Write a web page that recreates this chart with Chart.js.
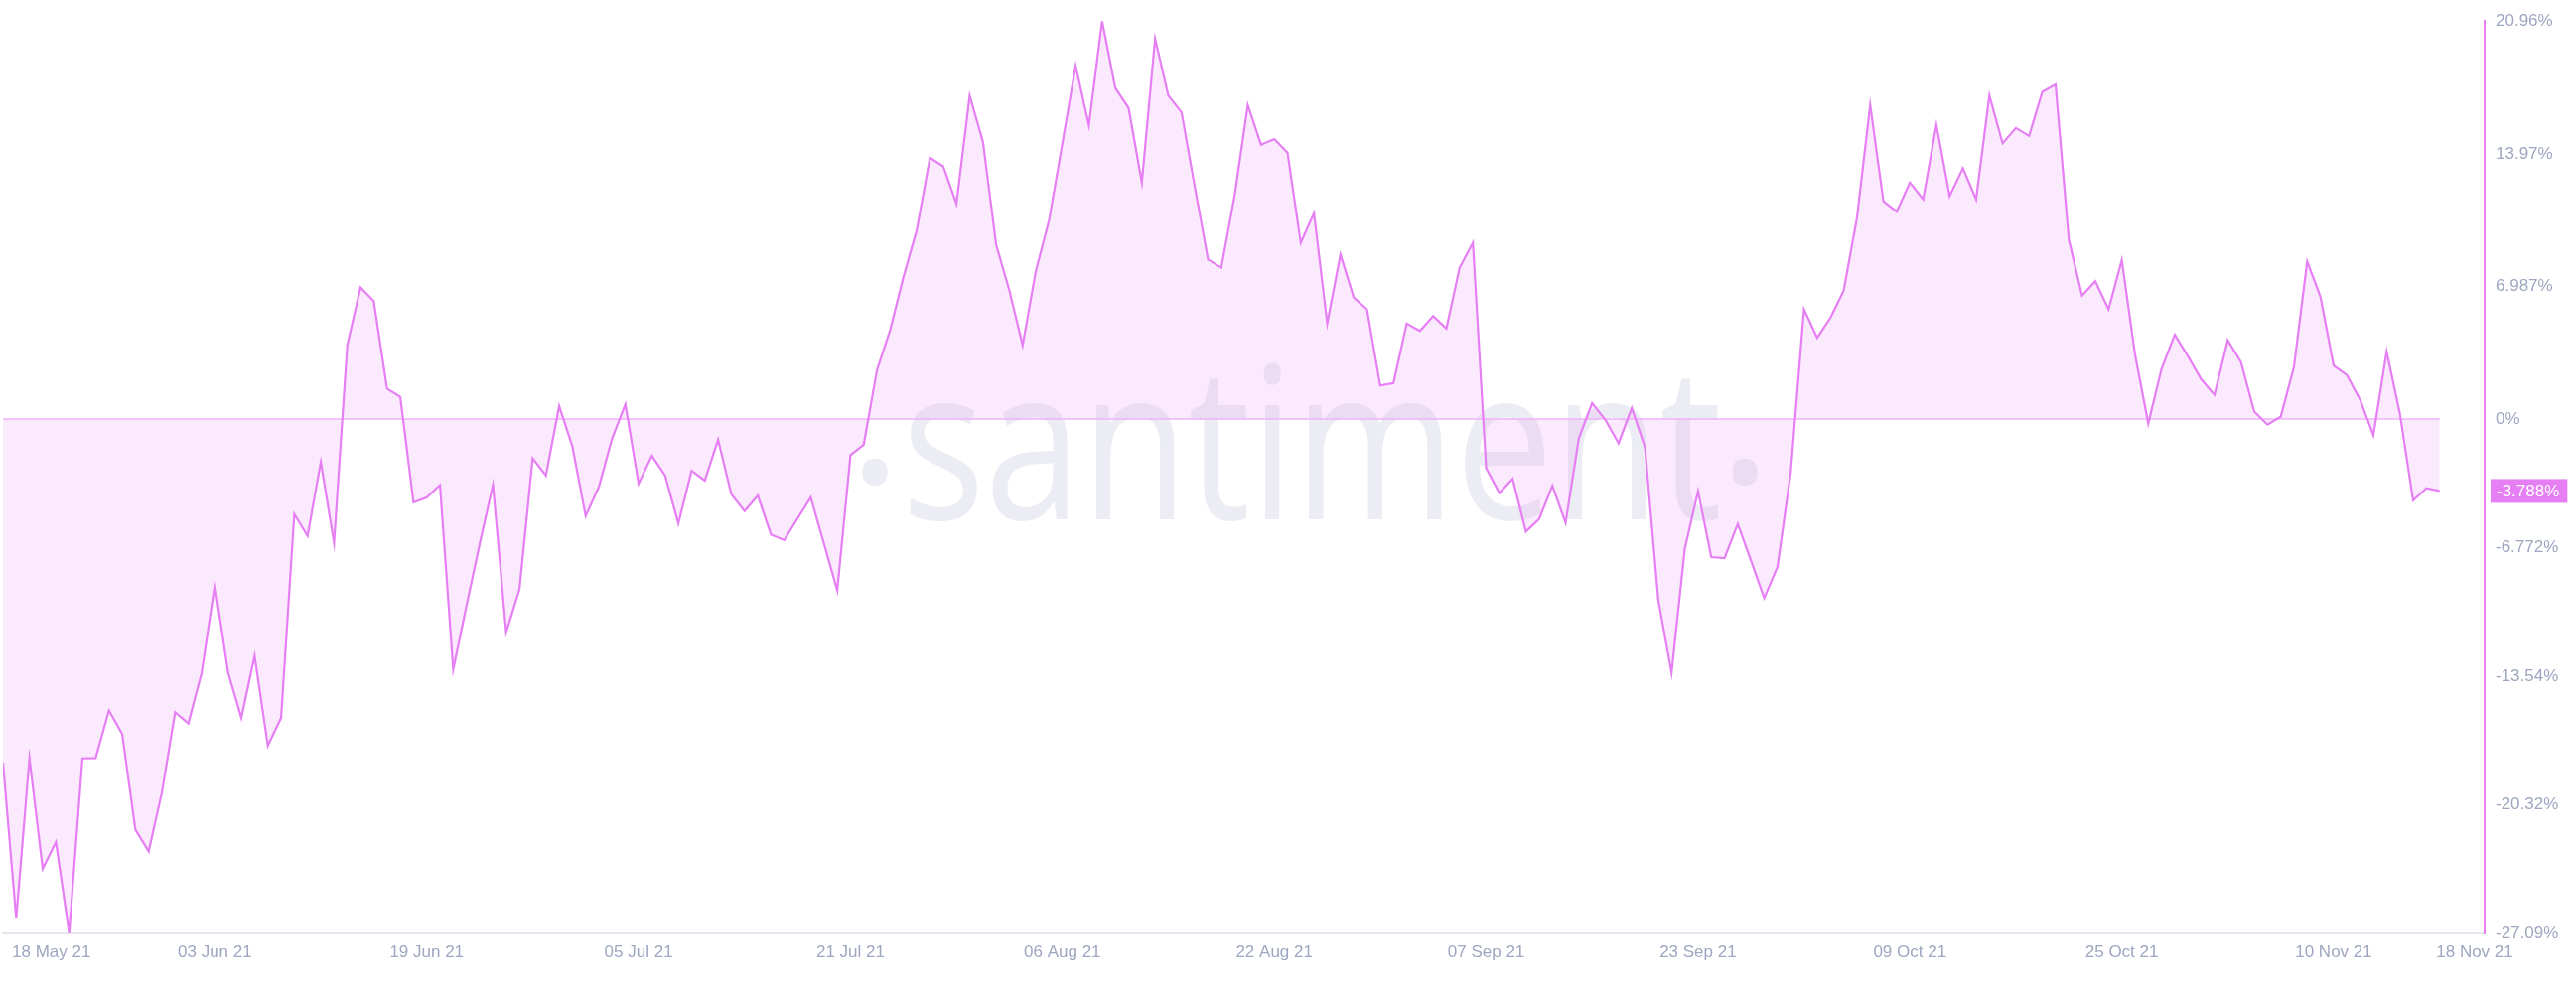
<!DOCTYPE html>
<html><head><meta charset="utf-8">
<script src="https://cdn.jsdelivr.net/npm/chart.js@4.4.0/dist/chart.umd.min.js"></script>
<style>html,body{margin:0;padding:0;background:#fff;overflow:hidden}#wrap{width:2594px;height:992px;position:relative}</style>
</head><body><div id="wrap"><canvas id="c" width="2594" height="992"></canvas></div>
<script>
// ---- data ----
const startDate = [2021, 4, 18]; // 18 May 2021, daily points
const values = [
-18.10,-26.31,-17.87,-23.69,-22.28,-27.09,-17.87,-17.85,-15.35,-16.59,
-21.63,-22.77,-19.67,-15.45,-16.03,-13.38,-8.71,-13.35,-15.74,-12.47,
-17.21,-15.74,-5.01,-6.16,-2.26,-6.52,3.89,6.93,6.21,1.60,
1.17,-4.39,-4.13,-3.47,-13.19,-9.85,-6.58,-3.47,-11.23,-8.97,
-2.07,-2.98,0.68,-1.45,-5.11,-3.57,-1.02,0.78,-3.41,-1.94,
-2.98,-5.50,-2.72,-3.24,-1.09,-3.96,-4.85,-4.03,-6.09,-6.38,
-5.24,-4.13,-6.58,-9.03,-1.90,-1.35,2.58,4.70,7.48,9.94,
13.76,13.31,11.34,17.04,14.61,9.18,6.76,3.89,7.81,10.49,
14.52,18.61,15.47,20.96,17.43,16.38,12.46,20.04,17.04,16.15,
12.23,8.40,7.97,11.74,16.54,14.45,14.75,14.03,9.28,10.85,
5.03,8.66,6.40,5.78,1.76,1.89,5.03,4.64,5.42,4.77,
7.97,9.28,-2.59,-3.90,-3.15,-5.93,-5.27,-3.51,-5.47,-1.02,
0.84,-0.04,-1.28,0.58,-1.51,-9.53,-13.38,-6.84,-3.80,-7.27,
-7.33,-5.53,-7.46,-9.43,-7.79,-2.82,5.78,4.28,5.33,6.76,
10.59,16.54,11.47,10.92,12.46,11.57,15.50,11.74,13.21,11.57,
17.04,14.52,15.33,14.91,17.23,17.62,9.45,6.50,7.26,5.78,
8.37,3.40,-0.24,2.64,4.44,3.30,2.09,1.27,4.15,3.00,
0.39,-0.30,0.12,2.74,8.30,6.44,2.81,2.32,1.01,-0.86,
3.56,0.29,-4.29,-3.64,-3.788
];
const xTickDays = [0,16,32,48,64,80,96,112,128,144,160,176,184];
const xTickLabels = ['18 May 21','03 Jun 21','19 Jun 21','05 Jul 21','21 Jul 21','06 Aug 21','22 Aug 21','07 Sep 21','23 Sep 21','09 Oct 21','25 Oct 21','10 Nov 21','18 Nov 21'];
const yTickValues = [20.96,13.97,6.987,0,-6.772,-13.54,-20.32,-27.09];
const yTickLabels = ['20.96%','13.97%','6.987%','0%','-6.772%','-13.54%','-20.32%','-27.09%'];
const watermarkText = 'santiment';

// ---- derived ----
const categories = values.map((_, i) => new Date(Date.UTC(startDate[0], startDate[1], startDate[2] + i)).toISOString().slice(0, 10));
const points = values.map((v, i) => ({x: i, y: v}));

const LINE = '#e67ef4';
const FILL = 'rgba(230,126,244,0.16)';
const TICK = '#9ea6c0';
const FONT = "17px 'Liberation Sans', Arial, sans-serif";

const watermarkPlugin = {
  id: 'wm',
  beforeDatasetsDraw(chart) {
    const ctx = chart.ctx;
    ctx.save();
    ctx.fillStyle = '#ecedf4';
    ctx.font = "400 215px 'Open Sans', 'Noto Sans', sans-serif";
    ctx.textBaseline = 'alphabetic';
    const w = ctx.measureText(watermarkText).width;
    const sx = 826 / w;
    ctx.save();
    ctx.translate(908, 523);
    ctx.scale(sx, 1);
    ctx.textAlign = 'left';
    ctx.fillText(watermarkText, 0, 0);
    ctx.restore();
    ctx.textAlign = 'center';
    ctx.fillText('\u00B7', 881, 550);
    ctx.fillText('\u00B7', 1757, 550);
    ctx.restore();
  },
  beforeDatasetDraw(chart) {
    const ctx = chart.ctx, xs = chart.scales.x, ys = chart.scales.y;
    const y0 = Math.round(ys.getPixelForValue(0));
    ctx.save();
    ctx.strokeStyle = '#edb3f7';
    ctx.lineWidth = 1.5;
    ctx.beginPath();
    ctx.moveTo(xs.getPixelForValue(0), y0);
    ctx.lineTo(xs.getPixelForValue(values.length - 1), y0);
    ctx.stroke();
    ctx.restore();
  },
  afterDraw(chart) {
    const ctx = chart.ctx, xs = chart.scales.x, ys = chart.scales.y, area = chart.chartArea;
    ctx.save();
    ctx.font = FONT;
    ctx.fillStyle = TICK;
    ctx.textBaseline = 'alphabetic';
    xTickDays.forEach((d, i) => {
      let x = xs.getPixelForValue(d);
      if (i === 0) { ctx.textAlign = 'left'; x += 9; }
      else if (i === xTickDays.length - 1) { ctx.textAlign = 'center'; x = area.right - 10; }
      else ctx.textAlign = 'center';
      ctx.fillText(xTickLabels[i], x, area.bottom + 24);
    });
    // last value badge
    const last = values[values.length - 1];
    const txt = last.toPrecision(4) + '%';
    const y = ys.getPixelForValue(last);
    const tw = ctx.measureText(txt).width;
    ctx.fillStyle = LINE;
    ctx.fillRect(area.right + 6, y - 12, tw + 14, 24);
    ctx.fillStyle = '#ffffff';
    ctx.textAlign = 'left';
    ctx.textBaseline = 'middle';
    ctx.fillText(txt, area.right + 12, y + 1);
    ctx.restore();
  }
};

new Chart(document.getElementById('c'), {
  type: 'line',
  data: {
    labels: categories,
    datasets: [{
      data: points,
      borderColor: LINE,
      backgroundColor: FILL,
      borderWidth: 2.2,
      fill: 'origin',
      pointRadius: 0,
      tension: 0,
      borderJoinStyle: 'miter'
    }]
  },
  options: {
    responsive: false,
    devicePixelRatio: 1,
    animation: false,
    layout: {padding: {top: 18, bottom: 44, left: 3, right: 0}},
    plugins: {legend: {display: false}, tooltip: {enabled: false}},
    scales: {
      x: {
        type: 'linear',
        min: 0,
        max: 187.4,
        grid: {display: false},
        border: {display: true, color: '#e5e7ef', width: 2},
        ticks: {display: false}
      },
      y: {
        position: 'right',
        min: -27.09,
        max: 20.96,
        grid: {display: false, drawTicks: false},
        border: {display: true, color: LINE, width: 2},
        afterBuildTicks(scale) { scale.ticks = yTickValues.map(v => ({value: v})); },
        afterFit(scale) { scale.width = 92; },
        ticks: {
          color: TICK,
          font: {family: "'Liberation Sans', Arial, sans-serif", size: 17},
          padding: 11,
          callback(value, index) { return yTickLabels[index]; }
        }
      }
    }
  },
  plugins: [watermarkPlugin]
});
</script>
</body></html>
